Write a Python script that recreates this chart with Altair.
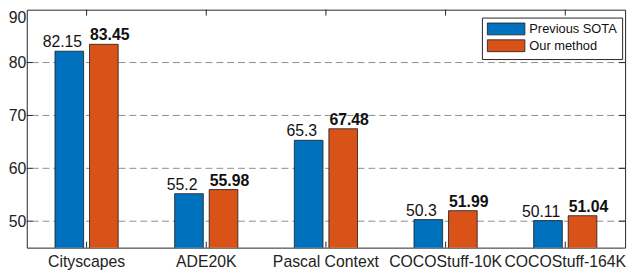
import altair as alt
import pandas as pd

categories = ["Cityscapes", "ADE20K", "Pascal Context", "COCOStuff-10K", "COCOStuff-164K"]
series = ["Previous SOTA", "Our method"]
prev_sota = [82.15, 55.2, 65.3, 50.3, 50.11]
ours = [83.45, 55.98, 67.48, 51.99, 51.04]
prev_labels = ["82.15", "55.2", "65.3", "50.3", "50.11"]
our_labels = ["83.45", "55.98", "67.48", "51.99", "51.04"]
y_ticks = [50, 60, 70, 80, 90]
grid_values = [50, 60, 70, 80]
colors = ["#0072BD", "#D95319"]

W, H = 606, 241
FONT = "Liberation Sans"

rows = []
for c, v, l in zip(categories, prev_sota, prev_labels):
    rows.append({"category": c, "series": series[0], "value": v, "label": l})
for c, v, l in zip(categories, ours, our_labels):
    rows.append({"category": c, "series": series[1], "value": v, "label": l})
df = pd.DataFrame(rows)
grid_df = pd.DataFrame({"value": grid_values})
cat_df = pd.DataFrame({"category": categories})

x_enc = alt.X("category:N", sort=categories,
              scale=alt.Scale(paddingInner=0, paddingOuter=0),
              axis=alt.Axis(title=None, labelAngle=0, ticks=False, domain=False,
                            labelFontSize=16, labelPadding=6, labelColor="#222222"))
y_scale = alt.Scale(domain=[45, 90], nice=False, zero=False)
y_enc = alt.Y("value:Q", scale=y_scale,
              axis=alt.Axis(title=None, values=y_ticks, grid=False, ticks=False, domain=False,
                            labelFontSize=16, labelPadding=1, labelColor="#222222",
                            labelFlush=True))
xoff = alt.XOffset("series:N", sort=series,
                   scale=alt.Scale(paddingInner=0.171, paddingOuter=0.817))

grid = alt.Chart(grid_df).mark_rule(color="#8c8c8c", strokeDash=[7, 4], strokeWidth=1).encode(
    y=alt.Y("value:Q", scale=y_scale)
)

ytick_l = alt.Chart(grid_df).mark_rule(color="#262626", strokeWidth=1).encode(
    y=alt.Y("value:Q", scale=y_scale), x=alt.value(0), x2=alt.value(6)
)
ytick_r = alt.Chart(grid_df).mark_rule(color="#262626", strokeWidth=1).encode(
    y=alt.Y("value:Q", scale=y_scale), x=alt.value(W - 6), x2=alt.value(W)
)
xtick_b = alt.Chart(cat_df).mark_rule(color="#262626", strokeWidth=1).encode(
    x=alt.X("category:N", sort=categories), y=alt.value(H), y2=alt.value(H - 6)
)
xtick_t = alt.Chart(cat_df).mark_rule(color="#262626", strokeWidth=1).encode(
    x=alt.X("category:N", sort=categories), y=alt.value(0), y2=alt.value(6)
)

bars = alt.Chart(df).mark_bar(stroke="#1a1a1a", strokeWidth=0.8, clip=True).encode(
    x=x_enc, y=y_enc, xOffset=xoff,
    color=alt.Color("series:N", sort=series,
                    scale=alt.Scale(domain=series, range=colors),
                    legend=alt.Legend(title=None, orient="none", legendX=461, legendY=8,
                                      symbolType="M-1,-1H5.333V1H-1Z", symbolSize=144,
                                      symbolStrokeColor="#1a1a1a", symbolStrokeWidth=0.8,
                                      symbolOpacity=1,
                                      labelFontSize=13, labelFont=FONT, labelOffset=30,
                                      labelColor="#111111",
                                      strokeColor="#262626", fillColor="white", padding=5,
                                      rowPadding=0)),
)

text_prev = alt.Chart(df).transform_filter(alt.datum.series == series[0]).mark_text(
    baseline="alphabetic", dy=-4, dx=-7, fontSize=16, font=FONT, color="#111111"
).encode(x=alt.X("category:N", sort=categories), xOffset=xoff, y=alt.Y("value:Q", scale=y_scale),
         text="label:N")
text_ours = alt.Chart(df).transform_filter(alt.datum.series == series[1]).mark_text(
    baseline="alphabetic", dy=-4, dx=6, fontSize=16, font=FONT, fontWeight="bold", color="#111111"
).encode(x=alt.X("category:N", sort=categories), xOffset=xoff, y=alt.Y("value:Q", scale=y_scale),
         text="label:N")

chart = alt.layer(grid, bars, text_prev, text_ours, ytick_l, ytick_r, xtick_b, xtick_t).properties(
    width=W, height=H,
    autosize=alt.AutoSizeParams(type="none"),
    padding={"left": 19, "top": 0, "right": 7, "bottom": 25},
).configure(font=FONT).configure_view(stroke="#262626", strokeWidth=1)

chart.save("out.html", embed_options={"renderer": "svg", "actions": False})
